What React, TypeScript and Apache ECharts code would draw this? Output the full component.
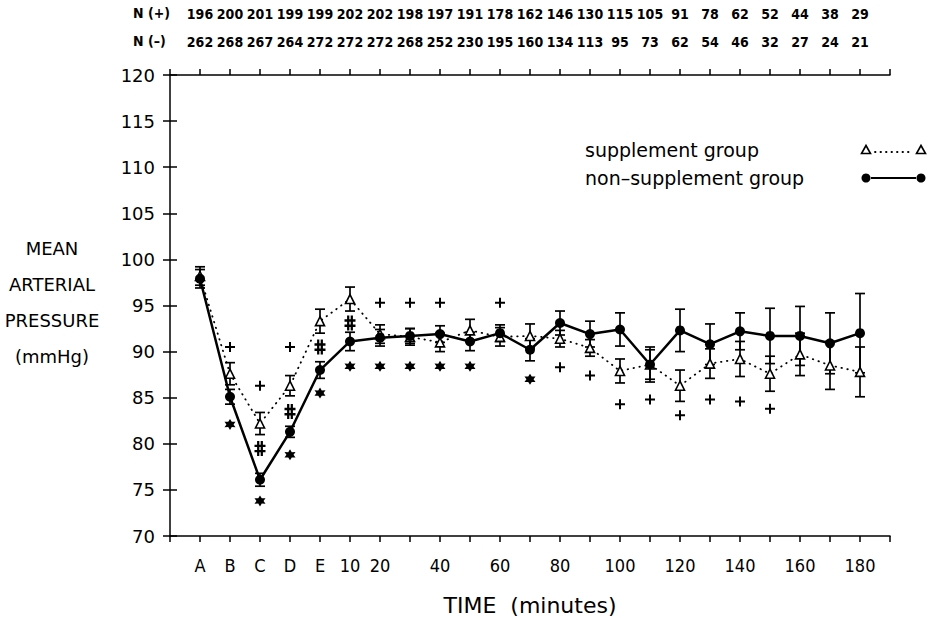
import React, { useEffect, useRef } from "react";
import * as echarts from "echarts";

const categories = ["A","B","C","D","E","10","20","30","40","50","60","70","80","90","100","110","120","130","140","150","160","170","180"];
const tickLabels = ["A","B","C","D","E","10","20","","40","","60","","80","","100","","120","","140","","160","","180"];
const nPlus = [196,200,201,199,199,202,202,198,197,191,178,162,146,130,115,105,91,78,62,52,44,38,29];
const nMinus = [262,268,267,264,272,272,272,268,252,230,195,160,134,113,95,73,62,54,46,32,27,24,21];

const suppMean = [98.2,87.6,82.2,86.3,93.3,95.7,91.9,91.6,91.0,92.3,91.6,91.7,91.4,90.4,87.9,88.6,86.3,88.7,89.2,87.6,89.7,88.5,87.8];
const suppErr = [1.0,1.2,1.2,1.1,1.3,1.3,1.0,0.9,1.0,1.2,1.0,1.3,0.9,0.9,1.3,1.6,1.7,1.6,1.9,1.9,2.3,2.6,2.7];
const nonMean = [97.9,85.1,76.1,81.3,88.0,91.1,91.5,91.7,91.9,91.1,92.0,90.2,93.1,91.9,92.4,88.6,92.3,90.8,92.2,91.7,91.7,90.9,92.0];
const nonErr = [1.0,0.8,0.7,0.6,0.9,1.0,0.9,0.8,0.9,1.0,0.9,1.2,1.3,1.4,1.8,1.9,2.3,2.2,2.0,3.0,3.2,3.3,4.3];

const plusMarks = [[1,90.5],[2,86.3],[3,90.5],[6,95.3],[7,95.3],[8,95.3],[10,95.3],[12,88.3],[13,87.4],[14,84.3],[15,84.8],[16,83.1],[17,84.8],[18,84.6],[19,83.8]];
const starMarks = [[1,82.1],[2,73.8],[3,78.8],[4,85.5],[5,88.4],[6,88.4],[7,88.4],[8,88.4],[9,88.4],[11,87.0]];
const hashMarks = [[2,79.5],[3,83.5],[4,90.5],[5,93.1]];

const yTicks = { min: 70, max: 120, interval: 5 };

const GRID_LEFT = 170;
const GRID_RIGHT = 49;
const CHART_W = 939;

const PLUS_PATH = "path://M4,0H6V4H10V6H6V10H4V6H0V4H4Z";
const STAR_PATH = "path://M5,0L6.4,2.6L9.33,2.5L7.8,5L9.33,7.5L6.4,7.4L5,10L3.6,7.4L0.67,7.5L2.2,5L0.67,2.5L3.6,2.6Z";
const HASH_PATH = "path://M3,0H5.6V16H3Z M7.2,0H9.8V16H7.2Z M0,4H12.8V6.6H0Z M0,9.6H12.8V12.2H0Z";

const NARROW = "'Liberation Sans Narrow', 'DejaVu Sans Condensed', sans-serif";
const SANS = "'DejaVu Sans', sans-serif";
const COND = "'DejaVu Sans Condensed', 'DejaVu Sans', sans-serif";

function idxLabel(arr: (string | number)[]) {
  return (v: number) => {
    const i = Math.round(v);
    if (Math.abs(v - i) > 1e-6 || i < 0 || i >= arr.length) return "";
    return String(arr[i]);
  };
}

function errorBarSeries(name: string, mean: number[], err: number[]) {
  return {
    name,
    type: "custom",
    xAxisIndex: 0,
    yAxisIndex: 0,
    z: 2,
    data: mean.map((m, i) => [i, m, err[i]]),
    renderItem: (params: any, api: any) => {
      const x = api.value(0);
      const m = api.value(1);
      const e = api.value(2);
      const top = api.coord([x, m + e]);
      const bot = api.coord([x, m - e]);
      const w = 5;
      const style = { stroke: "#000", lineWidth: 1.7 };
      return {
        type: "group",
        children: [
          { type: "line", shape: { x1: top[0], y1: top[1], x2: bot[0], y2: bot[1] }, style },
          { type: "line", shape: { x1: top[0] - w, y1: top[1], x2: top[0] + w, y2: top[1] }, style },
          { type: "line", shape: { x1: bot[0] - w, y1: bot[1], x2: bot[0] + w, y2: bot[1] }, style },
        ],
      };
    },
  };
}

function xAxisBase(extra: any) {
  return {
    type: "value",
    min: -1,
    max: 23,
    interval: 1,
    splitLine: { show: false },
    axisLine: { show: true, onZero: false, lineStyle: { color: "#000", width: 1.5 } },
    axisTick: { show: true, length: 6, lineStyle: { color: "#000", width: 1.5 } },
    ...extra,
  };
}

export default function App() {
  const ref = useRef<HTMLDivElement>(null);
  useEffect(() => {
    if (!ref.current) return;
    const chart = echarts.init(ref.current, null, { renderer: "svg" });
    const option: any = {
      animation: false,
      backgroundColor: "#fff",
      grid: { left: GRID_LEFT, right: GRID_RIGHT, top: 75, bottom: 84, containLabel: false },
      xAxis: [
        xAxisBase({
          position: "bottom",
          axisLabel: { formatter: idxLabel(tickLabels), color: "#000", fontFamily: COND, fontSize: 18, margin: 20 },
        }),
        xAxisBase({
          position: "top",
          axisLabel: { formatter: idxLabel(nMinus), color: "#000", fontFamily: NARROW, fontWeight: "bold", fontSize: 14, margin: 26 },
        }),
        xAxisBase({
          position: "top",
          offset: 28,
          axisLine: { show: false, onZero: false },
          axisTick: { show: false },
          axisLabel: { formatter: idxLabel(nPlus), color: "#000", fontFamily: NARROW, fontWeight: "bold", fontSize: 14, margin: 26 },
        }),
      ],
      yAxis: [
        {
          type: "value",
          ...yTicks,
          position: "left",
          splitLine: { show: false },
          axisLine: { show: true, onZero: false, lineStyle: { color: "#000", width: 1.5 } },
          axisTick: { show: true, length: 7, lineStyle: { color: "#000", width: 1.5 } },
          axisLabel: { color: "#000", fontFamily: SANS, fontSize: 18, margin: 15 },
        },
        {
          type: "value",
          ...yTicks,
          position: "right",
          offset: -(CHART_W - GRID_LEFT - GRID_RIGHT),
          splitLine: { show: false },
          axisLine: { show: false, onZero: false },
          axisTick: { show: true, length: 7, lineStyle: { color: "#000", width: 1.5 } },
          axisLabel: { show: false },
        },
      ],
      series: [
        errorBarSeries("supplement error", suppMean, suppErr),
        errorBarSeries("non-supplement error", nonMean, nonErr),
        {
          name: "supplement group",
          type: "line",
          z: 3,
          data: suppMean.map((v, i) => [i, v]),
          symbol: "triangle",
          symbolSize: 9,
          lineStyle: { color: "#000", width: 1.8, type: [0.5, 5.5], cap: "round" },
          itemStyle: { color: "#fff", borderColor: "#000", borderWidth: 1.6 },
        },
        {
          name: "non-supplement group",
          type: "line",
          z: 4,
          data: nonMean.map((v, i) => [i, v]),
          symbol: "circle",
          symbolSize: 10,
          lineStyle: { color: "#000", width: 2.5 },
          itemStyle: { color: "#000" },
        },
        {
          name: "plus",
          type: "scatter",
          z: 5,
          data: plusMarks,
          symbol: PLUS_PATH,
          symbolSize: 10,
          itemStyle: { color: "#000", opacity: 1 },
        },
        {
          name: "star",
          type: "scatter",
          z: 5,
          data: starMarks,
          symbol: STAR_PATH,
          symbolSize: 11,
          itemStyle: { color: "#000", opacity: 1 },
        },
        {
          name: "hash",
          type: "scatter",
          z: 5,
          data: hashMarks,
          symbol: HASH_PATH,
          symbolSize: [11, 15],
          itemStyle: { color: "#000", opacity: 1 },
        },
      ],
      graphic: [
        { type: "text", left: 133, top: 6, style: { text: "N (+)", fontFamily: NARROW, fontWeight: "bold", fontSize: 14, fill: "#000" } },
        { type: "text", left: 133, top: 34, style: { text: "N (–)", fontFamily: NARROW, fontWeight: "bold", fontSize: 14, fill: "#000" } },
        {
          type: "text",
          x: 52,
          y: 230,
          style: {
            text: "MEAN\nARTERIAL\nPRESSURE\n(mmHg)",
            fontFamily: SANS,
            fontSize: 18,
            lineHeight: 36,
            align: "center",
            fill: "#000",
          },
        },
        {
          type: "text",
          x: 530,
          y: 605,
          style: { text: "TIME  (minutes)", fontFamily: SANS, fontSize: 22, align: "center", verticalAlign: "middle", fill: "#000" },
        },
        { type: "text", x: 585, y: 150, style: { text: "supplement group", fontFamily: SANS, fontSize: 19, verticalAlign: "middle", fill: "#000" } },
        { type: "text", x: 585, y: 178, style: { text: "non\u2013supplement group", fontFamily: SANS, fontSize: 19, verticalAlign: "middle", fill: "#000" } },
        { type: "polygon", shape: { points: [[866, 145.5], [870.5, 153.5], [861.5, 153.5]] }, style: { fill: "#fff", stroke: "#000", lineWidth: 1.6 } },
        { type: "line", shape: { x1: 875, y1: 152, x2: 912, y2: 152 }, style: { stroke: "#000", lineWidth: 1.8, lineDash: [0.5, 5], lineCap: "round" } },
        { type: "polygon", shape: { points: [[921, 145.5], [925.5, 153.5], [916.5, 153.5]] }, style: { fill: "#fff", stroke: "#000", lineWidth: 1.6 } },
        { type: "circle", shape: { cx: 866, cy: 178, r: 4.5 }, style: { fill: "#000" } },
        { type: "line", shape: { x1: 871, y1: 178, x2: 916, y2: 178 }, style: { stroke: "#000", lineWidth: 2 } },
        { type: "circle", shape: { cx: 921, cy: 178, r: 4.5 }, style: { fill: "#000" } },
      ],
    };
    chart.setOption(option);
    return () => chart.dispose();
  }, []);
  return <div ref={ref} style={{ position: "fixed", left: 0, top: 0, width: 939, height: 620, background: "#fff" }} />;
}
